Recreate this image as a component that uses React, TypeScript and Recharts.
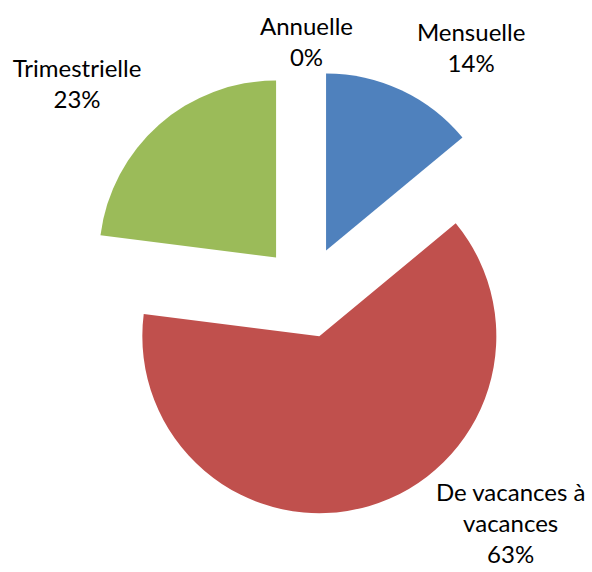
import { PieChart, Pie, Cell, Sector } from 'recharts';

// Fréquence de ... (parts en %)
const categories = ['Mensuelle', 'De vacances à vacances', 'Trimestrielle', 'Annuelle'];
const shares = [14, 63, 23, 0];
const colors = ['#4F81BD', '#C0504D', '#9BBB59', '#8064A2'];

const data = categories.map((name, i) => ({ name, value: shares[i] }));

const RADIAN = Math.PI / 180;
const EXPLODE = 46;
const LINE_HEIGHT = 31;

// where Excel's "best fit" dropped each label (angle in degrees, distance from the pie centre)
const labelPlacement: Record<string, { angle: number; dist: number }> = {
  'Mensuelle': { angle: 55, dist: 287 },
  'De vacances à vacances': { angle: -49.6, dist: 315 },
  'Trimestrielle': { angle: 139, dist: 304 },
  'Annuelle': { angle: 90, dist: 242 },
};

const wrap = (text: string, max = 13) => {
  const lines: string[] = [];
  let cur = '';
  text.split(' ').forEach(w => {
    const next = cur ? cur + ' ' + w : w;
    if (next.length > max && cur) {
      lines.push(cur);
      cur = w;
    } else {
      cur = next;
    }
  });
  if (cur) lines.push(cur);
  return lines;
};

const ExplodedSector = (props: any) => {
  const { cx, cy, midAngle } = props;
  const dx = EXPLODE * Math.cos(-midAngle * RADIAN);
  const dy = EXPLODE * Math.sin(-midAngle * RADIAN);
  return <Sector {...props} cx={cx + dx} cy={cy + dy} stroke="none" />;
};

const renderLabel = (props: any) => {
  const { cx, cy, midAngle, name, percent } = props;
  const place = labelPlacement[name] || { angle: midAngle, dist: 280 };
  const x = cx + place.dist * Math.cos(-place.angle * RADIAN);
  const y = cy + place.dist * Math.sin(-place.angle * RADIAN);
  const lines = [...wrap(name), `${Math.round(percent * 100)}%`];
  const firstY = y - ((lines.length - 1) * LINE_HEIGHT) / 2;
  return (
    <text
      x={x}
      y={firstY}
      textAnchor="middle"
      fill="#000000"
      style={{ fontFamily: 'Lato, sans-serif', fontSize: 24 }}
    >
      {lines.map((line, i) => (
        <tspan key={i} x={x} y={firstY + i * LINE_HEIGHT}>
          {line}
        </tspan>
      ))}
    </text>
  );
};

export default function App() {
  return (
    <div style={{ position: 'fixed', left: 0, top: 0, width: 592, height: 572, background: '#ffffff' }}>
      <PieChart width={592} height={572} margin={{ top: 0, right: 0, bottom: 0, left: 0 }}>
        <Pie
          data={data}
          dataKey="value"
          nameKey="name"
          cx={306.5}
          cy={292}
          outerRadius={177}
          startAngle={90}
          endAngle={-270}
          shape={ExplodedSector}
          activeShape={ExplodedSector}
          label={renderLabel}
          labelLine={false}
          isAnimationActive={false}
        >
          {data.map((entry, i) => (
            <Cell key={entry.name} fill={colors[i]} />
          ))}
        </Pie>
      </PieChart>
    </div>
  );
}
